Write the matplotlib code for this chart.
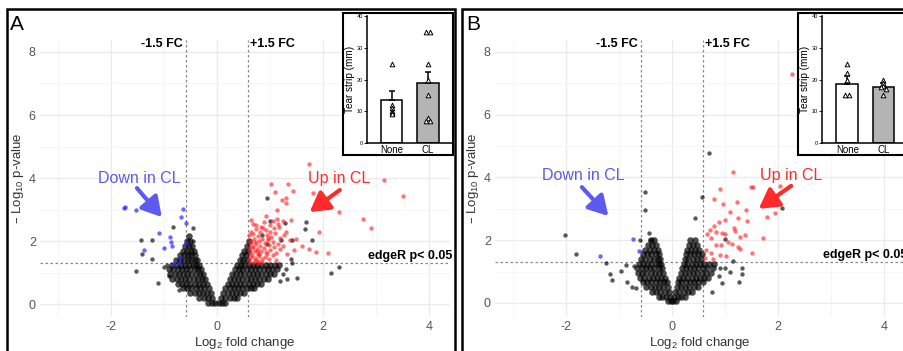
import matplotlib
matplotlib.use('Agg')
import matplotlib.pyplot as plt
from matplotlib.patches import Rectangle

plt.rcParams['font.family'] = ['Liberation Sans', 'DejaVu Sans']
plt.rcParams['axes.unicode_minus'] = False
plt.rcParams['mathtext.default'] = 'regular'

# ---- panel A data (log2 FC, -log10 p) ----
cloud_a_rows = [
    (0.05, [-0.17, -0.1, -0.04, 0.03, 0.09, 0.16]),
    (0.2, [-0.33, -0.25, -0.17, -0.09, 0.08, 0.16, 0.24, 0.32, 0.38]),
    (0.35, [-0.5, -0.42, -0.34, -0.26, -0.18, -0.11, 0.12, 0.2, 0.28, 0.36, 0.44, 0.52]),
    (0.5, [-0.64, -0.56, -0.48, -0.4, -0.32, -0.24, -0.15, 0.16, 0.24, 0.32, 0.4, 0.48, 0.56, 0.64, 0.7]),
    (0.65, [-0.74, -0.66, -0.58, -0.5, -0.42, -0.34, -0.26, -0.19, 0.2, 0.28, 0.36, 0.44, 0.52, 0.6, 0.68, 0.76, 0.84]),
    (0.8, [-0.84, -0.76, -0.68, -0.6, -0.52, -0.44, -0.36, -0.28, -0.22, 0.25, 0.32, 0.4, 0.48, 0.56, 0.64, 0.72, 0.8, 0.88, 0.96]),
    (0.95, [-0.88, -0.8, -0.72, -0.64, -0.56, -0.48, -0.4, -0.32, -0.26, 0.29, 0.36, 0.44, 0.52, 0.6, 0.68, 0.76, 0.84, 0.92, 1.0, 1.08]),
    (1.1, [-0.9, -0.82, -0.74, -0.66, -0.58, -0.5, -0.42, -0.35, -0.3, 0.34, 0.41, 0.48, 0.56, 0.64, 0.72, 0.8, 0.88, 0.96, 1.04, 1.14]),
    (1.25, [-0.84, -0.76, -0.68, -0.6, -0.52, -0.45, -0.39, -0.34, 0.38, 0.45, 0.52, 0.6, 0.68, 0.76, 0.84, 0.92, 1.0, 1.1, 1.18]),
    (1.4, [-0.78, -0.7, -0.62, -0.55, -0.48, -0.42, -0.37, 0.43, 0.5, 0.57]),
    (1.55, [-0.7, -0.62, -0.55, -0.48, -0.41, 0.47, 0.54]),
    (1.7, [-0.64, -0.56, -0.49, -0.44, 0.52, 0.58]),
    (1.85, [-0.6, -0.53, -0.47, 0.56]),
    (2.0, [-0.56, -0.5, 0.6]),
    (2.15, [-0.52]),
]
black_a_x = [-0.82, -0.45, -1.44, -1.22, -1.41, -1.23, -1.52, -1.11, -1.0, -0.72, -0.46, -0.95, -0.9,
             0.95, 1.69, 1.66, 1.79, 2.3, 2.15, 1.52, 1.33, 1.19, 1.41, 1.21, 1.0, 1.28, 1.41, 1.4, 1.3, 1.25, 0.85, 0.95]
black_a_y = [2.45, 2.4, 2.03, 2.03, 1.58, 1.43, 1.06, 0.66, 1.18, 0.45, 2.0, 1.25, 0.9,
             3.38, 2.6, 2.37, 2.03, 1.18, 0.99, 0.82, 0.78, 0.72, 1.3, 2.03, 2.63, 2.56, 2.03, 1.43, 1.1, 0.95, 2.2, 1.9]
red_a_x = [1.74, 3.16, 3.52, 1.35, 1.02, 1.09, 1.43, 1.81, 1.22, 1.3, 1.3, 1.13, 2.3, 2.76, 2.91, 1.93, 2.09, 1.87,
           1.73, 1.6, 1.49, 1.38, 1.24, 1.4, 0.65, 0.93,
           0.62, 0.7, 0.78, 0.86, 0.65, 0.72, 0.8, 0.9, 0.98, 1.05, 0.63, 0.7, 0.77, 0.84, 0.92, 1.0, 1.12, 1.2,
           0.66, 0.74, 0.82, 0.9, 0.98, 1.06, 1.15, 1.25, 0.62, 0.7, 0.78, 0.86, 0.94, 1.02, 1.1, 1.2, 1.3,
           0.65, 0.74, 0.83, 0.92, 1.0, 1.08, 1.16, 0.68, 0.88, 1.05, 1.32, 1.45, 0.75, 0.95, 1.12,
           0.61, 0.67, 0.73, 0.79, 0.85, 0.61, 0.68, 0.76, 0.88, 0.64, 0.71, 0.8, 0.97, 1.08, 0.6, 0.69,
           0.81, 0.96, 1.18, 1.26, 0.74, 0.87, 1.0, 1.14, 0.79]
red_a_y = [4.44, 3.94, 3.44, 3.82, 3.8, 3.57, 3.59, 3.54, 3.29, 3.38, 3.2, 2.98, 2.91, 2.69, 2.41, 2.3, 1.61, 1.65,
           1.76, 1.84, 2.05, 2.03, 2.64, 2.66, 2.67, 2.78,
           1.35, 1.32, 1.38, 1.34, 1.5, 1.45, 1.52, 1.48, 1.42, 1.55, 1.62, 1.68, 1.6, 1.7, 1.65, 1.72, 1.62, 1.75,
           1.82, 1.9, 1.85, 1.95, 1.88, 1.98, 1.92, 1.85, 2.0, 2.08, 2.15, 2.05, 2.2, 2.12, 2.25, 2.1, 2.3,
           2.3, 2.38, 2.45, 2.35, 2.5, 2.42, 2.55, 2.55, 2.6, 2.65, 1.6, 1.72, 1.75, 1.58, 1.4,
           1.42, 1.56, 1.4, 1.6, 1.44, 1.75, 1.8, 1.68, 1.78, 1.95, 1.98, 2.0, 2.02, 1.82, 2.18, 2.22,
           2.28, 2.1, 2.45, 2.2, 2.52, 2.4, 2.3, 2.7, 1.3]
blue_a_x = [-1.75, -1.73, -1.53, -0.64, -0.67, -0.59, -1.09, -0.89, -0.86, -0.85, -0.99, -1.38, -0.59, -0.7, -0.71, -0.81]
blue_a_y = [3.05, 3.07, 2.99, 3.02, 2.77, 2.58, 2.24, 2.12, 1.98, 1.84, 1.77, 1.71, 1.95, 1.48, 1.31, 1.28]

# ---- panel B data ----
cloud_b_rows = [
    (0.05, [-0.07, -0.02, 0.02, 0.07]),
    (0.2, [-0.25, -0.18, -0.11, -0.04, 0.04, 0.11, 0.18, 0.25]),
    (0.35, [-0.38, -0.3, -0.22, -0.14, -0.06, 0.06, 0.14, 0.22, 0.3, 0.38]),
    (0.5, [-0.48, -0.4, -0.32, -0.24, -0.16, -0.08, 0.09, 0.17, 0.25, 0.33, 0.41, 0.49]),
    (0.65, [-0.55, -0.47, -0.39, -0.31, -0.23, -0.15, -0.1, 0.11, 0.18, 0.26, 0.34, 0.42, 0.5, 0.58]),
    (0.8, [-0.6, -0.52, -0.44, -0.36, -0.28, -0.2, -0.13, 0.14, 0.21, 0.29, 0.37, 0.45, 0.53, 0.61, 0.68]),
    (0.95, [-0.64, -0.56, -0.48, -0.4, -0.32, -0.24, -0.16, 0.17, 0.24, 0.32, 0.4, 0.48, 0.56, 0.64, 0.74]),
    (1.1, [-0.65, -0.57, -0.49, -0.41, -0.33, -0.25, -0.18, 0.19, 0.26, 0.34, 0.42, 0.5, 0.58, 0.66, 0.78]),
    (1.25, [-0.63, -0.55, -0.47, -0.39, -0.31, -0.24, -0.2, 0.22, 0.29, 0.37, 0.45, 0.53, 0.61, 0.7, 0.8]),
    (1.4, [-0.58, -0.5, -0.42, -0.34, -0.27, -0.22, 0.24, 0.31, 0.39, 0.47, 0.55]),
    (1.55, [-0.55, -0.47, -0.39, -0.31, -0.25, 0.27, 0.34, 0.42, 0.5, 0.57]),
    (1.7, [-0.5, -0.42, -0.34, -0.27, 0.29, 0.36, 0.44, 0.52]),
    (1.85, [-0.45, -0.37, -0.3, 0.32, 0.4, 0.48]),
    (2.0, [-0.4, -0.33, 0.35, 0.43]),
]
black_b_x = [-2.02, -1.82, -1.25, -1.16, -1.14, -0.97, -0.87, -0.85, -0.75, -0.67, -0.72, -0.5, -0.51, -0.43, -0.6, -0.42,
             0.7, 0.56, 0.43, 2.07, 1.0, 1.16, 1.33, 1.33, 1.27, 1.09, 0.94, 0.75, 0.91, 1.0, 0.88]
black_b_y = [2.17, 1.56, 1.28, 0.91, 0.73, 1.02, 1.2, 0.66, 0.52, 0.49, 1.16, 3.53, 2.96, 2.22, 2.0, 2.0,
             4.77, 3.39, 2.69, 3.02, 2.04, 1.35, 1.1, 0.91, 0.65, 1.0, 0.63, 0.36, 1.12, 1.12, 0.85]
red_b_x = [2.27, 1.15, 1.5, 1.53, 2.04, 0.91, 0.8, 0.97, 1.23, 1.4, 1.09, 1.79, 1.94, 1.24, 0.89, 1.0, 1.42,
           0.8, 0.72, 0.84, 1.17, 1.2, 0.94, 1.01, 0.67, 0.73, 1.28, 1.38, 1.06, 1.13, 0.83, 0.92, 1.25, 1.28,
           1.72, 1.52, 0.65, 0.73, 0.9, 1.03, 0.63, 0.78]
red_b_y = [7.31, 4.16, 3.7, 3.69, 3.74, 3.63, 3.31, 3.14, 3.21, 2.96, 2.89, 2.73, 2.88, 2.72, 2.59, 2.64, 2.61,
           2.45, 2.32, 2.27, 2.38, 2.29, 2.22, 2.19, 2.2, 2.06, 2.11, 2.17, 1.95, 1.88, 1.86, 1.83, 1.79, 1.71,
           2.08, 1.58, 1.69, 1.58, 1.52, 1.48, 1.42, 1.39]
blue_b_x = [-0.73, -0.62, -1.35]
blue_b_y = [2.05, 1.66, 1.51]

# ---- inset bar charts (tear strip, mm) ----
groups = ['None', 'CL']
ins_a_mean = [13.5, 19.0]
ins_a_sem = [3.0, 3.5]
ins_a_none = [25, 12, 11, 10, 9.5, 9]
ins_a_none_dx = [0, 0, 0, 0, 0, 0]
ins_a_cl = [35, 35, 25, 20, 15, 8, 7, 7]
ins_a_cl_dx = [-0.06, 0.06, 0, 0, 0, 0, -0.06, 0.06]
ins_b_mean = [18.7, 17.6]
ins_b_sem = [2.3, 1.2]
ins_b_none = [25, 22, 20, 15, 15]
ins_b_none_dx = [0, 0, 0, -0.06, 0.06]
ins_b_cl = [20, 19, 18, 17.5, 17, 15]
ins_b_cl_dx = [0, 0, 0, -0.06, 0.06, 0]

W, H = 904, 351
fig = plt.figure(figsize=(W / 100, H / 100), dpi=100)


def fx(px):
    return px / W


def fy(py):
    return 1 - py / H


def volcano(ax, rows, bx, by, rx, ry, ux, uy, arrows, ylo):
    cx = [x for y, r in rows for x in r]
    cy = [y for y, r in rows for x in r]
    ax.scatter(cx, cy, s=22, color='black', alpha=0.7, lw=0, zorder=2)
    ax.scatter(bx, by, s=10, color='black', alpha=0.65, lw=0, zorder=2)
    ax.scatter(rx, ry, s=10, color='#ff1a1a', alpha=0.6, lw=0, zorder=3)
    ax.scatter(ux, uy, s=10, color='#2a2aff', alpha=0.7, lw=0, zorder=3)
    ax.set_xlim(-3.34, 4.40)
    ax.set_ylim(ylo, 8.38)
    ax.set_xticks([-2, 0, 2, 4])
    ax.set_yticks([0, 2, 4, 6, 8])
    ax.set_xticks([-3, -1, 1, 3], minor=True)
    ax.set_yticks([1, 3, 5, 7], minor=True)
    ax.grid(True, which='major', color='#ebebeb', lw=1.0, zorder=0)
    ax.grid(True, which='minor', color='#f4f4f4', lw=0.6, zorder=0)
    ax.set_axisbelow(True)
    ax.tick_params(which='both', length=0, labelsize=9, labelcolor='#555555', pad=3)
    for s in ax.spines.values():
        s.set_visible(False)
    ax.set_xlabel('Log$_2$ fold change', fontsize=9.5, color='#333333', labelpad=1)
    ax.set_ylabel('– Log$_{10}$ p-value', fontsize=9.5, color='#333333', labelpad=2)
    for xv in (-0.585, 0.585):
        ax.axvline(xv, color='#888888', lw=0.9, ls=(0, (2, 2)), zorder=1)
    ax.axhline(1.301, color='#888888', lw=0.9, ls=(0, (2, 2)), zorder=1)
    ax.text(-0.64, 8.25, '-1.5 FC', ha='right', va='center', fontsize=9, fontweight='bold')
    ax.text(0.62, 8.25, '+1.5 FC', ha='left', va='center', fontsize=9, fontweight='bold')
    ax.text(1.005, 1.53, 'edgeR p< 0.05', transform=ax.get_yaxis_transform(), ha='right', va='center',
            fontsize=9, fontweight='bold', clip_on=False)
    for txt, col, tpos, tail, tip in arrows:
        ax.text(tpos[0], tpos[1], txt, color=col, fontsize=11.5, ha='center', va='center')
        ax.annotate('', xy=tip, xytext=tail,
                    arrowprops=dict(arrowstyle='-|>,head_length=1.3,head_width=0.75', color=col,
                                    lw=3.0, mutation_scale=9, shrinkA=0, shrinkB=0))


def inset(left_px, xlo, mean, sem, none_v, none_dx, cl_v, cl_dx):
    box = Rectangle((fx(left_px - 24), fy(155)), 110 / W, 142 / H, transform=fig.transFigure,
                    facecolor='white', edgecolor='black', lw=1.5, zorder=2)
    fig.patches.append(box)
    ia = fig.add_axes([fx(left_px), fy(143), 86 / W, 127 / H], zorder=3)
    ia.patch.set_alpha(0)
    ia.bar([0, 1], mean, width=0.6, color=['white', '#b4b4b4'], edgecolor='black', lw=1.1, zorder=2)
    ia.errorbar([0, 1], mean, yerr=[[0, 0], sem], fmt='none', ecolor='black', elinewidth=1.1,
                capsize=2.5, capthick=1.1, zorder=3)
    ia.scatter([0 + d for d in none_dx], none_v, marker='^', s=11, facecolor='white',
               edgecolor='black', lw=0.7, zorder=4)
    ia.scatter([1 + d for d in cl_dx], cl_v, marker='^', s=11, facecolor='white',
               edgecolor='black', lw=0.7, zorder=4)
    ia.set_xlim(xlo, xlo + 2.38)
    ia.set_ylim(0, 40)
    ia.set_yticks([0, 10, 20, 30, 40])
    ia.set_xticks([0, 1])
    ia.set_xticklabels(groups)
    ia.spines['top'].set_visible(False)
    ia.spines['right'].set_visible(False)
    ia.spines['left'].set_linewidth(1.1)
    ia.spines['bottom'].set_linewidth(1.1)
    ia.tick_params(axis='y', length=2, width=0.6, labelsize=4, pad=1)
    ia.tick_params(axis='x', length=0, labelsize=7, pad=1.5)
    ia.set_ylabel('Tear strip (mm)', fontsize=7.2, labelpad=1.2)


ax_a = fig.add_axes([fx(40), fy(317), 410 / W, 277 / H])
volcano(ax_a, cloud_a_rows, black_a_x, black_a_y, red_a_x, red_a_y, blue_a_x, blue_a_y,
        [('Down in CL', '#5b5bef', (-1.47, 3.97), (-1.51, 3.68), (-1.04, 2.76)),
         ('Up in CL', '#ff2a2a', (2.3, 3.97), (2.32, 3.62), (1.75, 2.92))], -0.41)

ax_b = fig.add_axes([fx(495), fy(317), 410 / W, 277 / H])
volcano(ax_b, cloud_b_rows, black_b_x, black_b_y, red_b_x, red_b_y, blue_b_x, blue_b_y,
        [('Down in CL', '#5b5bef', (-1.68, 4.05), (-1.70, 3.69), (-1.2, 2.77)),
         ('Up in CL', '#ff2a2a', (2.25, 4.05), (2.25, 3.73), (1.64, 3.0))], -0.45)

# panel frames
for x0, x1 in ((7, 455), (462, 930)):
    fig.patches.append(Rectangle((fx(x0), fy(380)), (x1 - x0) / W, 371 / H, transform=fig.transFigure,
                                 fill=False, edgecolor='black', lw=1.8, zorder=1))
fig.text(fx(10), fy(24), 'A', fontsize=15, va='center', ha='left')
fig.text(fx(466), fy(24), 'B', fontsize=15, va='center', ha='left')

inset(367, -0.68, ins_a_mean, ins_a_sem, ins_a_none, ins_a_none_dx, ins_a_cl, ins_a_cl_dx)
inset(822, -0.70, ins_b_mean, ins_b_sem, ins_b_none, ins_b_none_dx, ins_b_cl, ins_b_cl_dx)

fig.savefig('out.png', dpi=100)
